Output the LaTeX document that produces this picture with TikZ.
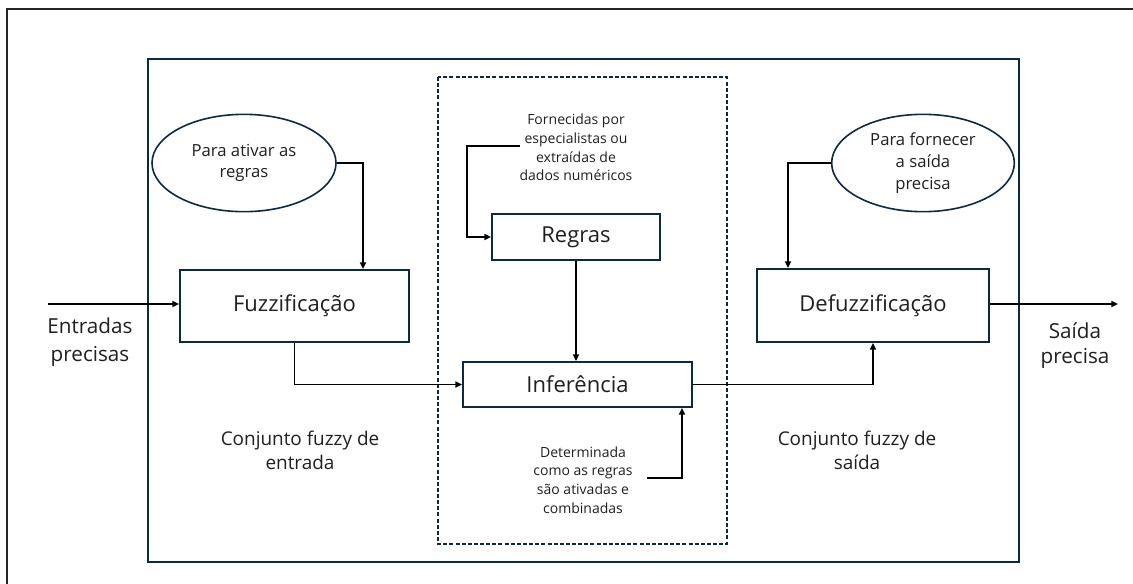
\documentclass[tikz,border=0pt]{standalone}
\usepackage{fontspec}
\setmainfont{Open Sans}
\usetikzlibrary{arrows.meta,shapes.geometric}
\definecolor{navy}{HTML}{0E2841}
\definecolor{ink}{HTML}{1F1F1F}

\begin{document}
\begin{tikzpicture}[x=0.75pt,y=-0.75pt,
  box/.style={draw=navy,line width=1.4pt,inner sep=0pt,text=ink,
    font=\fontsize{16.5}{19}\selectfont},
  oval/.style={ellipse,draw=navy,line width=1.2pt,inner sep=0pt,align=center,
    text=ink,minimum width=138pt,minimum height=73pt},
  note/.style={align=center,text=ink,inner sep=0pt},
  arr/.style={-{Triangle[length=5pt,width=4.5pt]},line width=1.2pt,black}]
\useasboundingbox (0,0) rectangle (1133,583);

% page frame and the two enclosures
\draw[black!85,line width=1.3pt] (7,600) -- (7,9) -- (1150,9);
\draw[navy,line width=1.5pt] (148,59) rectangle (1019,562);
\draw[navy,line width=1.1pt,dash pattern=on 3pt off 1.6pt] (438,77) rectangle (727,544);

% processing blocks
\node[box,minimum width=171.75pt,minimum height=54pt] (fuzz) at (294.5,306) {Fuzzificação};
\node[box,minimum width=126pt,minimum height=34.5pt] (reg) at (576,237) {Regras};
\node[box,minimum width=171.75pt,minimum height=33.75pt] (inf) at (577.5,384.5) {Inferência};
\node[box,minimum width=174pt,minimum height=54.75pt] (defz) at (873,305.5) {Defuzzificação};

% explanatory ovals
\node[oval,font=\fontsize{12.5}{15.75}\selectfont] (e1) at (244,163) {Para ativar as\\regras};
\node[oval,font=\fontsize{12.5}{16.5}\selectfont,minimum width=137pt] (e2) at (923,163) {Para fornecer\\a saída\\precisa};

% free labels
\node[note,font=\fontsize{10.5}{13.9}\selectfont] (t1) at (576,147.5)
  {Fornecidas por\\especialistas ou\\extraídas de\\dados numéricos};
\node[note,font=\fontsize{10.5}{14}\selectfont] (t2) at (583,480)
  {Determinada\\como as regras\\são ativadas e\\combinadas};
\node[note,font=\fontsize{15.5}{21}\selectfont] (t3) at (90,342) {Entradas\\precisas};
\node[note,font=\fontsize{15.5}{19}\selectfont] (t4) at (1075,345.5) {Saída\\precisa};
\node[note,font=\fontsize{14.2}{18}\selectfont] (t5) at (300,450) {Conjunto fuzzy de\\entrada};
\node[note,font=\fontsize{14.2}{18}\selectfont] (t6) at (857,450) {Conjunto fuzzy de\\saída};

% connector bends and free ends
\coordinate (in) at (48,304);
\coordinate (out) at (1118,304);
\coordinate (k1) at (363,163);
\coordinate (k2) at (788,163);
\coordinate (nA) at (520,146);
\coordinate (bA) at (467,146);
\coordinate (nB) at (647,478);
\coordinate (bB) at (682,478);

% connectors
\draw[arr] (in) -- (fuzz.west |- in);
\draw[arr] (defz.east |- out) -- (out);
\draw[arr] (e1.east) -- (k1) -- (k1 |- fuzz.north);
\draw[arr] (e2.west) -- (k2) -- (k2 |- defz.north);
\draw[arr] (nA) -- (bA) |- (reg.west);
\draw[arr] (reg.south) -- (reg.south |- inf.north);
\draw[arr] (fuzz.south) |- (inf.west);
\draw[arr] (inf.east) -| (defz.south);
\draw[arr] (nB) -- (bB) -- (bB |- inf.south);
\end{tikzpicture}
\end{document}
